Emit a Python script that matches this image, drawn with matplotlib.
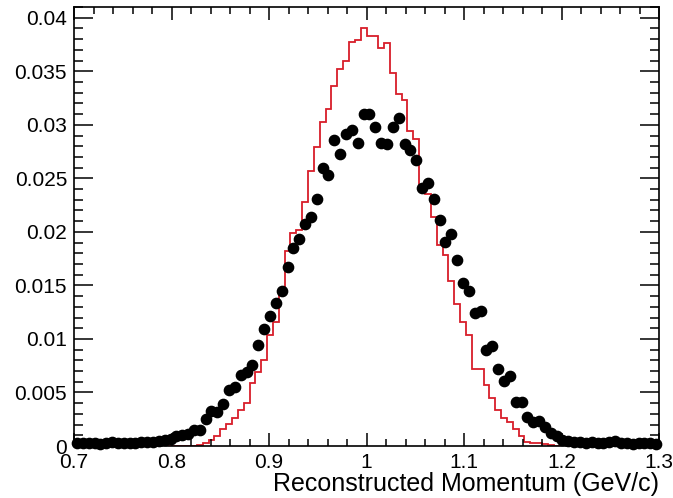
import numpy as np
import matplotlib
matplotlib.use("Agg")
import matplotlib.pyplot as plt

plt.rcParams['font.family'] = ['Liberation Sans', 'DejaVu Sans']

# binning: 100 bins from 0.7 to 1.3 GeV/c
x_min = 0.7
x_max = 1.3
n_bins = 100

# red histogram (bin contents)
red_hist = [
    0, 0, 0, 0, 0, 0, 0, 0, 0, 0,
    0, 0, 0, 0, 0, 0, 0, 0, 0, 0,
    0, 0.0001, 0.0003, 0.0006, 0.0009, 0.0016, 0.0021, 0.0026, 0.0034, 0.0040,
    0.0059, 0.0069, 0.0080, 0.0104, 0.0116, 0.0145, 0.0182, 0.0199, 0.0202, 0.0228,
    0.0257, 0.0279, 0.0303, 0.0315, 0.0336, 0.0352, 0.0360, 0.0377, 0.0379, 0.0390,
    0.0383, 0.0383, 0.0372, 0.0376, 0.0348, 0.0329, 0.0323, 0.0294, 0.0287, 0.0241,
    0.0235, 0.0214, 0.0188, 0.0178, 0.0154, 0.0133, 0.0116, 0.0104, 0.0072, 0.0072,
    0.0057, 0.0045, 0.0034, 0.0026, 0.0022, 0.0016, 0.0009, 0.0004, 0.0003, 0.0003,
    0.0002, 0.0001, 0, 0, 0, 0, 0, 0, 0, 0,
    0, 0, 0, 0, 0, 0, 0, 0, 0, 0,
]

# black points (bin contents)
black_pts = [
    0.0003, 0.0003, 0.0003, 0.0003, 0.0002, 0.0003, 0.0004, 0.0003, 0.0003, 0.0003,
    0.0003, 0.0004, 0.0004, 0.0004, 0.0005, 0.0006, 0.0007, 0.0009, 0.0010, 0.0011,
    0.0015, 0.0015, 0.0025, 0.0033, 0.0032, 0.0039, 0.0052, 0.0055, 0.0066, 0.0069,
    0.0076, 0.0094, 0.0109, 0.0121, 0.0134, 0.0145, 0.0167, 0.0185, 0.0193, 0.0207,
    0.0214, 0.0231, 0.0260, 0.0253, 0.0286, 0.0273, 0.0291, 0.0295, 0.0283, 0.0310,
    0.0310, 0.0298, 0.0283, 0.0282, 0.0298, 0.0306, 0.0282, 0.0276, 0.0267, 0.0241,
    0.0246, 0.0231, 0.0211, 0.0191, 0.0198, 0.0174, 0.0152, 0.0145, 0.0124, 0.0126,
    0.0090, 0.0093, 0.0072, 0.0061, 0.0065, 0.0041, 0.0041, 0.0027, 0.0022, 0.0023,
    0.0018, 0.0012, 0.0009, 0.0006, 0.0005, 0.0004, 0.0004, 0.0003, 0.0004, 0.0003,
    0.0003, 0.0004, 0.0005, 0.0003, 0.0003, 0.0002, 0.0003, 0.0003, 0.0003, 0.0002,
]

x_ticks = [0.7, 0.8, 0.9, 1.0, 1.1, 1.2, 1.3]
x_tick_labels = ["0.7", "0.8", "0.9", "1", "1.1", "1.2", "1.3"]
y_ticks = [0, 0.005, 0.01, 0.015, 0.02, 0.025, 0.03, 0.035, 0.04]
y_tick_labels = ["0", "0.005", "0.01", "0.015", "0.02", "0.025", "0.03", "0.035", "0.04"]
x_title = "Reconstructed Momentum (GeV/c)"

edges = np.linspace(x_min, x_max, n_bins + 1)
centers = 0.5 * (edges[:-1] + edges[1:])

fig = plt.figure(figsize=(6.73, 4.98), dpi=100)
ax = fig.add_axes([0.110, 0.1044, 0.8692, 0.8815])

ax.stairs(red_hist, edges, color='#d81e2a', lw=1.3)
ax.plot(centers, black_pts, 'o', color='black', ms=7.4, clip_on=False, zorder=3)

ax.set_xlim(x_min, x_max)
ax.set_ylim(0, 0.0410)

ax.set_xticks(x_ticks)
ax.set_xticklabels(x_tick_labels)
ax.set_yticks(y_ticks)
ax.set_yticklabels(y_tick_labels)
ax.set_xticks(np.arange(0.7, 1.3001, 0.02), minor=True)
ax.set_yticks(np.arange(0, 0.0411, 0.001), minor=True)

ax.tick_params(which='both', direction='in', top=True, right=True,
               labelsize=15, width=1.1, color='black')
ax.tick_params(axis='x', which='major', length=9.4, pad=5)
ax.tick_params(axis='x', which='minor', length=4.7)
ax.tick_params(axis='y', which='major', length=13.5, pad=5)
ax.tick_params(axis='y', which='minor', length=6.5)

for sp in ax.spines.values():
    sp.set_linewidth(1.2)

ax.set_xlabel(x_title, fontsize=18, loc='right', labelpad=0)

fig.savefig("out.png", dpi=100)
